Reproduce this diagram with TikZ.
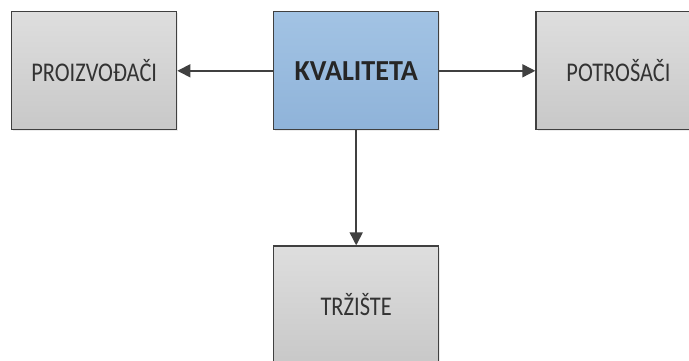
\documentclass[tikz,border=0pt]{standalone}
\usepackage{fontspec}
\setmainfont{Carlito}
\usetikzlibrary{arrows.meta,shadows}
\definecolor{graytop}{HTML}{DEDEDE}
\definecolor{graybot}{HTML}{C8C8C8}
\definecolor{bluetop}{HTML}{A2C3E4}
\definecolor{bluebot}{HTML}{8FB3D9}
\definecolor{edge}{HTML}{404040}
\tikzset{
  box/.style={draw=edge, line width=1.3pt, minimum width=165pt, minimum height=118pt,
    top color=graytop, bottom color=graybot, inner sep=0pt,
    font=\fontsize{27}{30}\selectfont, text=black!80,
    drop shadow={shadow xshift=1.5pt, shadow yshift=-1.5pt, opacity=0.15}},
  mainbox/.style={box, top color=bluetop, bottom color=bluebot,
    font=\fontsize{29}{32}\selectfont\bfseries, text=black!85},
  conn/.style={draw=edge, line width=1.6pt, -{Triangle[length=13pt,width=13pt]}}
}
\begin{document}
\begin{tikzpicture}[x=1pt,y=-1pt]
\useasboundingbox (0,0) rectangle (689,360);
\clip (0,0) rectangle (689,360);
\fill[white] (0,0) rectangle (689,360);
\node[box] (p) at (94.2,70.8) {\scalebox{0.83}[1]{PROIZVOĐAČI}};
\node[mainbox] (k) at (356.2,70.8) {\scalebox{0.97}[1]{KVALITETA}};
\node[box] (c) at (618.5,70.8) {\scalebox{0.83}[1]{POTROŠAČI}};
\node[box] (t) at (356.2,305) {\scalebox{0.83}[1]{TRŽIŠTE}};
\draw[conn] (k.west) -- (p.east);
\draw[conn] (k.east) -- (c.west);
\draw[conn] (k.south) -- (t.north);
\end{tikzpicture}
\end{document}
